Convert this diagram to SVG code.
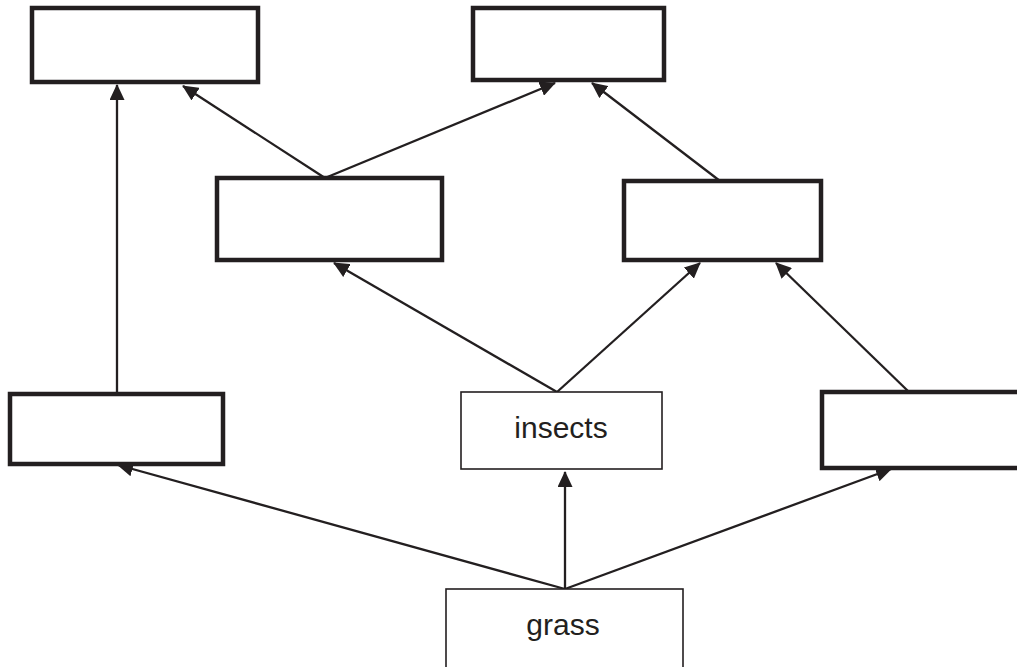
<svg xmlns="http://www.w3.org/2000/svg" width="1017" height="667" viewBox="0 0 1017 667">
<defs>
<style>
.thick{fill:#fff;stroke:#231f20;stroke-width:4.5}
.thin{fill:#fff;stroke:#231f20;stroke-width:1.6}
.edge{fill:none;stroke:#231f20;stroke-width:2.3;marker-end:url(#ah)}
.lbl{font-family:"Liberation Sans",Arial,sans-serif;font-size:30px;fill:#231f20;text-anchor:middle}
</style>
<marker id="ah" markerUnits="userSpaceOnUse" markerWidth="16" markerHeight="15" viewBox="0 0 16 15" refX="15" refY="7.5" orient="auto">
<path d="M0,0 L16,7.5 L0,15 z" fill="#231f20"/>
</marker>
</defs>
<rect width="1017" height="667" fill="#fff"/>
<g id="connectors">
<line class="edge" x1="117" y1="394" x2="117" y2="85"/>
<line class="edge" x1="325" y1="178" x2="183" y2="86"/>
<line class="edge" x1="325" y1="178" x2="555" y2="83"/>
<line class="edge" x1="720" y1="181" x2="592" y2="83"/>
<line class="edge" x1="557" y1="392" x2="334" y2="263"/>
<line class="edge" x1="557" y1="392" x2="700" y2="263"/>
<line class="edge" x1="909" y1="392" x2="776" y2="263"/>
<line class="edge" x1="565" y1="589" x2="118" y2="465"/>
<line class="edge" x1="565" y1="589" x2="565" y2="472"/>
<line class="edge" x1="565" y1="589" x2="891" y2="469"/>
</g>
<g id="node-top-left"><rect class="thick" x="32" y="8" width="226" height="74"/></g>
<g id="node-top-middle"><rect class="thick" x="473" y="8" width="191" height="72"/></g>
<g id="node-mid-left"><rect class="thick" x="217" y="178" width="225" height="82"/></g>
<g id="node-mid-right"><rect class="thick" x="624" y="181" width="197" height="79"/></g>
<g id="node-bottom-left"><rect class="thick" x="10" y="394" width="213" height="70"/></g>
<g id="node-insects"><rect class="thin" x="461" y="392" width="201" height="77"/><text class="lbl" x="561" y="438">insects</text></g>
<g id="node-bottom-right"><rect class="thick" x="822" y="392" width="220" height="76"/></g>
<g id="node-grass"><rect class="thin" x="446" y="589" width="237" height="100"/><text class="lbl" x="563" y="635">grass</text></g>
</svg>
